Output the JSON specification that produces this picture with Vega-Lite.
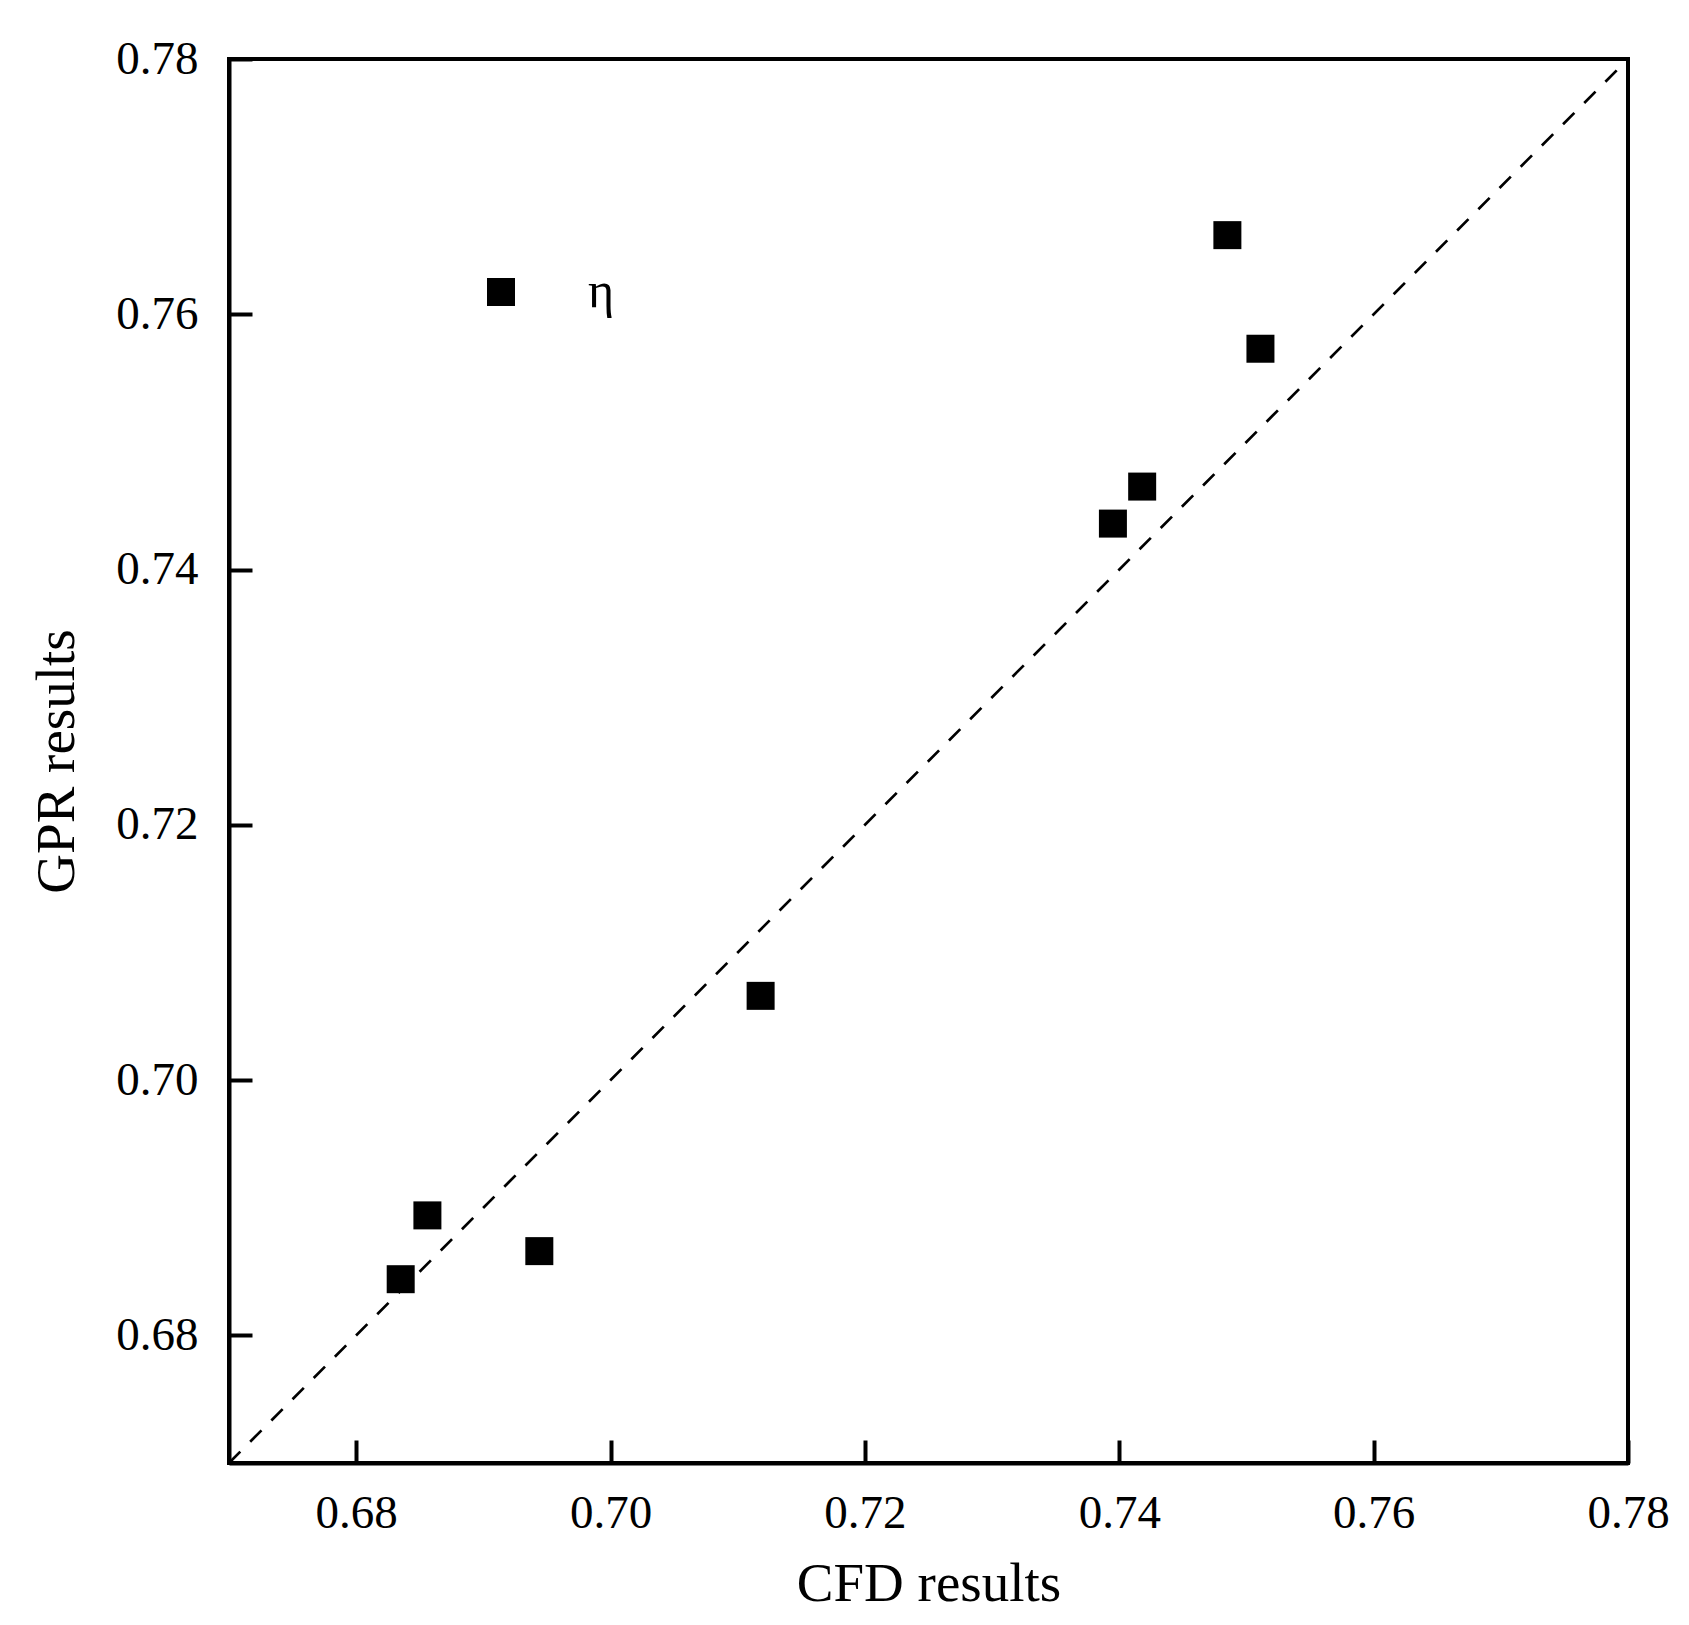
{
  "$schema": "https://vega.github.io/schema/vega-lite/v6.json",
  "width": 1399,
  "height": 1404,
  "autosize": {"type": "none"},
  "padding": {"left": 229, "top": 59, "right": 61, "bottom": 162},
  "background": "white",
  "datasets": {
    "pts": [
      {"cfd": 0.7485, "gpr": 0.7662, "series": "η"},
      {"cfd": 0.7511, "gpr": 0.7573, "series": "η"},
      {"cfd": 0.7418, "gpr": 0.7465, "series": "η"},
      {"cfd": 0.7395, "gpr": 0.7436, "series": "η"},
      {"cfd": 0.7118, "gpr": 0.7066, "series": "η"},
      {"cfd": 0.6856, "gpr": 0.6894, "series": "η"},
      {"cfd": 0.6835, "gpr": 0.6844, "series": "η"},
      {"cfd": 0.6944, "gpr": 0.6866, "series": "η"}
    ],
    "diag": [
      {"cfd": 0.67, "gpr": 0.67},
      {"cfd": 0.78, "gpr": 0.78}
    ]
  },
  "config": {
    "view": {"stroke": "black", "strokeWidth": 4},
    "font": "Liberation Serif",
    "axis": {
      "domainColor": "black",
      "domainWidth": 4,
      "tickColor": "black",
      "tickWidth": 4,
      "tickSize": -23,
      "grid": false,
      "labelFont": "Liberation Serif",
      "labelFontSize": 47,
      "labelColor": "black",
      "labelFlush": false,
      "labelOverlap": false,
      "titleFont": "Liberation Serif",
      "titleFontSize": 55,
      "titleFontWeight": "normal",
      "titleColor": "black"
    }
  },
  "layer": [
    {
      "data": {"name": "diag"},
      "mark": {"type": "line", "color": "black", "strokeWidth": 2.7, "strokeDash": [16, 14], "clip": true},
      "encoding": {
        "x": {"field": "cfd", "type": "quantitative"},
        "y": {"field": "gpr", "type": "quantitative"}
      }
    },
    {
      "data": {"name": "pts"},
      "mark": {"type": "point", "shape": "square", "filled": true, "size": 784, "opacity": 1, "strokeWidth": 0},
      "encoding": {
        "x": {
          "field": "cfd", "type": "quantitative",
          "scale": {"domain": [0.67, 0.78], "nice": false, "zero": false},
          "axis": {"title": "CFD results", "values": [0.68, 0.70, 0.72, 0.74, 0.76, 0.78], "format": ".2f", "labelPadding": 50, "titlePadding": 21}
        },
        "y": {
          "field": "gpr", "type": "quantitative",
          "scale": {"domain": [0.67, 0.78], "nice": false, "zero": false},
          "axis": {"title": "GPR results", "values": [0.68, 0.70, 0.72, 0.74, 0.76, 0.78], "format": ".2f", "labelPadding": 54, "titlePadding": 30}
        },
        "color": {
          "field": "series", "type": "nominal",
          "scale": {"range": ["black"]},
          "legend": {
            "title": null,
            "orient": "none",
            "legendX": 247,
            "legendY": 208,
            "padding": 0,
            "symbolType": "square",
            "symbolSize": 784,
            "symbolStrokeWidth": 0,
            "symbolFillColor": "black",
            "labelFont": "Liberation Serif",
            "labelFontSize": 50,
            "labelColor": "black",
            "labelOffset": 62,
            "labelBaseline": "middle"
          }
        }
      }
    }
  ]
}
